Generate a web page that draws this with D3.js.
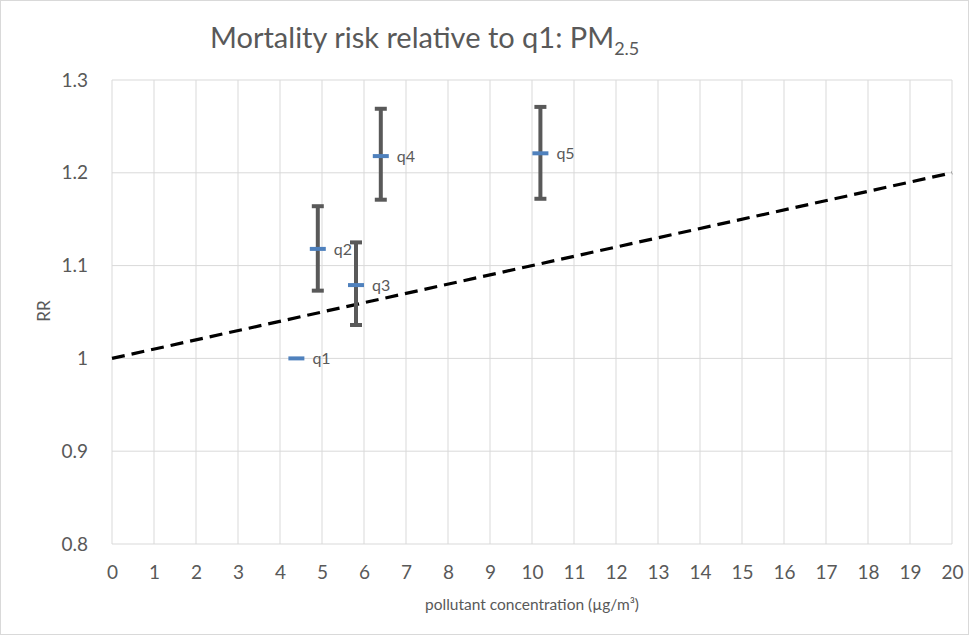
<!DOCTYPE html>
<html>
<head>
<meta charset="utf-8">
<script src="https://cdn.jsdelivr.net/npm/d3@7"></script>
<style>
  body { margin: 0; background: #fff; }
  text { font-family: Lato, 'Open Sans', sans-serif; fill: #595959; }
  .grid line { stroke: #d9d9d9; stroke-width: 1; }
</style>
</head>
<body>
<svg class="chart" width="969" height="635"></svg>
<script>
const labels = ['q1', 'q2', 'q3', 'q4', 'q5'];
const concentration = [4.39, 4.9, 5.81, 6.4, 10.2];
const rr = [1.0, 1.118, 1.079, 1.218, 1.221];
const rrLow = [null, 1.073, 1.036, 1.171, 1.172];
const rrHigh = [null, 1.164, 1.125, 1.269, 1.271];
const refLineX = [0, 20];
const refLineY = [1.0, 1.2];
const xTicks = d3.range(0, 21, 1);
const yTicks = [0.8, 0.9, 1, 1.1, 1.2, 1.3];

const svg = d3.select('.chart');
const plot = { left: 112, right: 952, top: 80, bottom: 544 };
const xScale = d3.scaleLinear().domain([0, 20]).range([plot.left, plot.right]);
const yScale = d3.scaleLinear().domain([0.8, 1.3]).range([plot.bottom, plot.top]);

svg.append('rect')
  .attr('x', 0.5).attr('y', 0.5).attr('width', 968).attr('height', 634)
  .attr('fill', '#fff').attr('stroke', '#d9d9d9');

// gridlines
const grid = svg.append('g').classed('grid', true);
grid.selectAll('.v').data(xTicks).enter().append('line')
  .attr('x1', d => xScale(d)).attr('x2', d => xScale(d))
  .attr('y1', plot.top).attr('y2', plot.bottom);
grid.selectAll('.h').data(yTicks).enter().append('line')
  .attr('x1', plot.left).attr('x2', plot.right)
  .attr('y1', d => yScale(d)).attr('y2', d => yScale(d));

// axes (labels only, Excel style)
const xAxis = d3.axisBottom(xScale).tickValues(xTicks).tickSize(0).tickPadding(22);
const yAxis = d3.axisLeft(yScale).tickValues(yTicks).tickSize(0).tickPadding(24)
  .tickFormat(d => d3.format('')(d));
const gx = svg.append('g').attr('transform', `translate(0, ${plot.bottom})`).call(xAxis);
const gy = svg.append('g').attr('transform', `translate(${plot.left}, 0)`).call(yAxis);
[gx, gy].forEach(g => {
  g.select('.domain').remove();
  g.selectAll('text').attr('font-size', 19).attr('fill', '#595959')
    .style('font-family', 'Lato, sans-serif');
});

// reference dashed line
const line = d3.line().x(d => xScale(d[0])).y(d => yScale(d[1]));
svg.append('path')
  .datum(d3.zip(refLineX, refLineY))
  .attr('d', line)
  .attr('fill', 'none')
  .attr('stroke', '#000')
  .attr('stroke-width', 3.2)
  .attr('stroke-dasharray', '13,7');

// error bars
const points = labels.map((label, i) => ({
  label, x: concentration[i], y: rr[i], lo: rrLow[i], hi: rrHigh[i],
}));
const bars = svg.append('g').selectAll('g')
  .data(points.filter(d => d.lo !== null))
  .enter().append('g')
  .attr('stroke', '#595959').attr('stroke-width', 4);
bars.append('line')
  .attr('x1', d => xScale(d.x)).attr('x2', d => xScale(d.x))
  .attr('y1', d => yScale(d.hi)).attr('y2', d => yScale(d.lo));
bars.append('line')
  .attr('x1', d => xScale(d.x) - 6).attr('x2', d => xScale(d.x) + 6)
  .attr('y1', d => yScale(d.hi)).attr('y2', d => yScale(d.hi));
bars.append('line')
  .attr('x1', d => xScale(d.x) - 6).attr('x2', d => xScale(d.x) + 6)
  .attr('y1', d => yScale(d.lo)).attr('y2', d => yScale(d.lo));

// dash markers
svg.append('g').selectAll('line')
  .data(points)
  .enter().append('line')
  .attr('x1', d => xScale(d.x) - 8).attr('x2', d => xScale(d.x) + 8)
  .attr('y1', d => yScale(d.y)).attr('y2', d => yScale(d.y))
  .attr('stroke', '#4f81bd').attr('stroke-width', 4);

svg.append('g').selectAll('text')
  .data(points)
  .enter().append('text')
  .attr('x', d => xScale(d.x) + 16)
  .attr('y', d => yScale(d.y) + 6)
  .attr('font-size', 16)
  .text(d => d.label);

// titles
const title = svg.append('text')
  .attr('x', 210).attr('y', 48)
  .attr('font-size', 29);
title.append('tspan').text('Mortality risk relative to q1: PM');
title.append('tspan').attr('font-size', 18).attr('dy', 7).text('2.5');

svg.append('text')
  .attr('transform', 'rotate(-90)')
  .attr('x', -311).attr('y', 50)
  .attr('text-anchor', 'middle')
  .attr('font-size', 17)
  .text('RR');

svg.append('text')
  .attr('x', 532).attr('y', 610)
  .attr('text-anchor', 'middle')
  .attr('font-size', 15.5)
  .text('pollutant concentration (µg/m³)');
</script>
</body>
</html>
